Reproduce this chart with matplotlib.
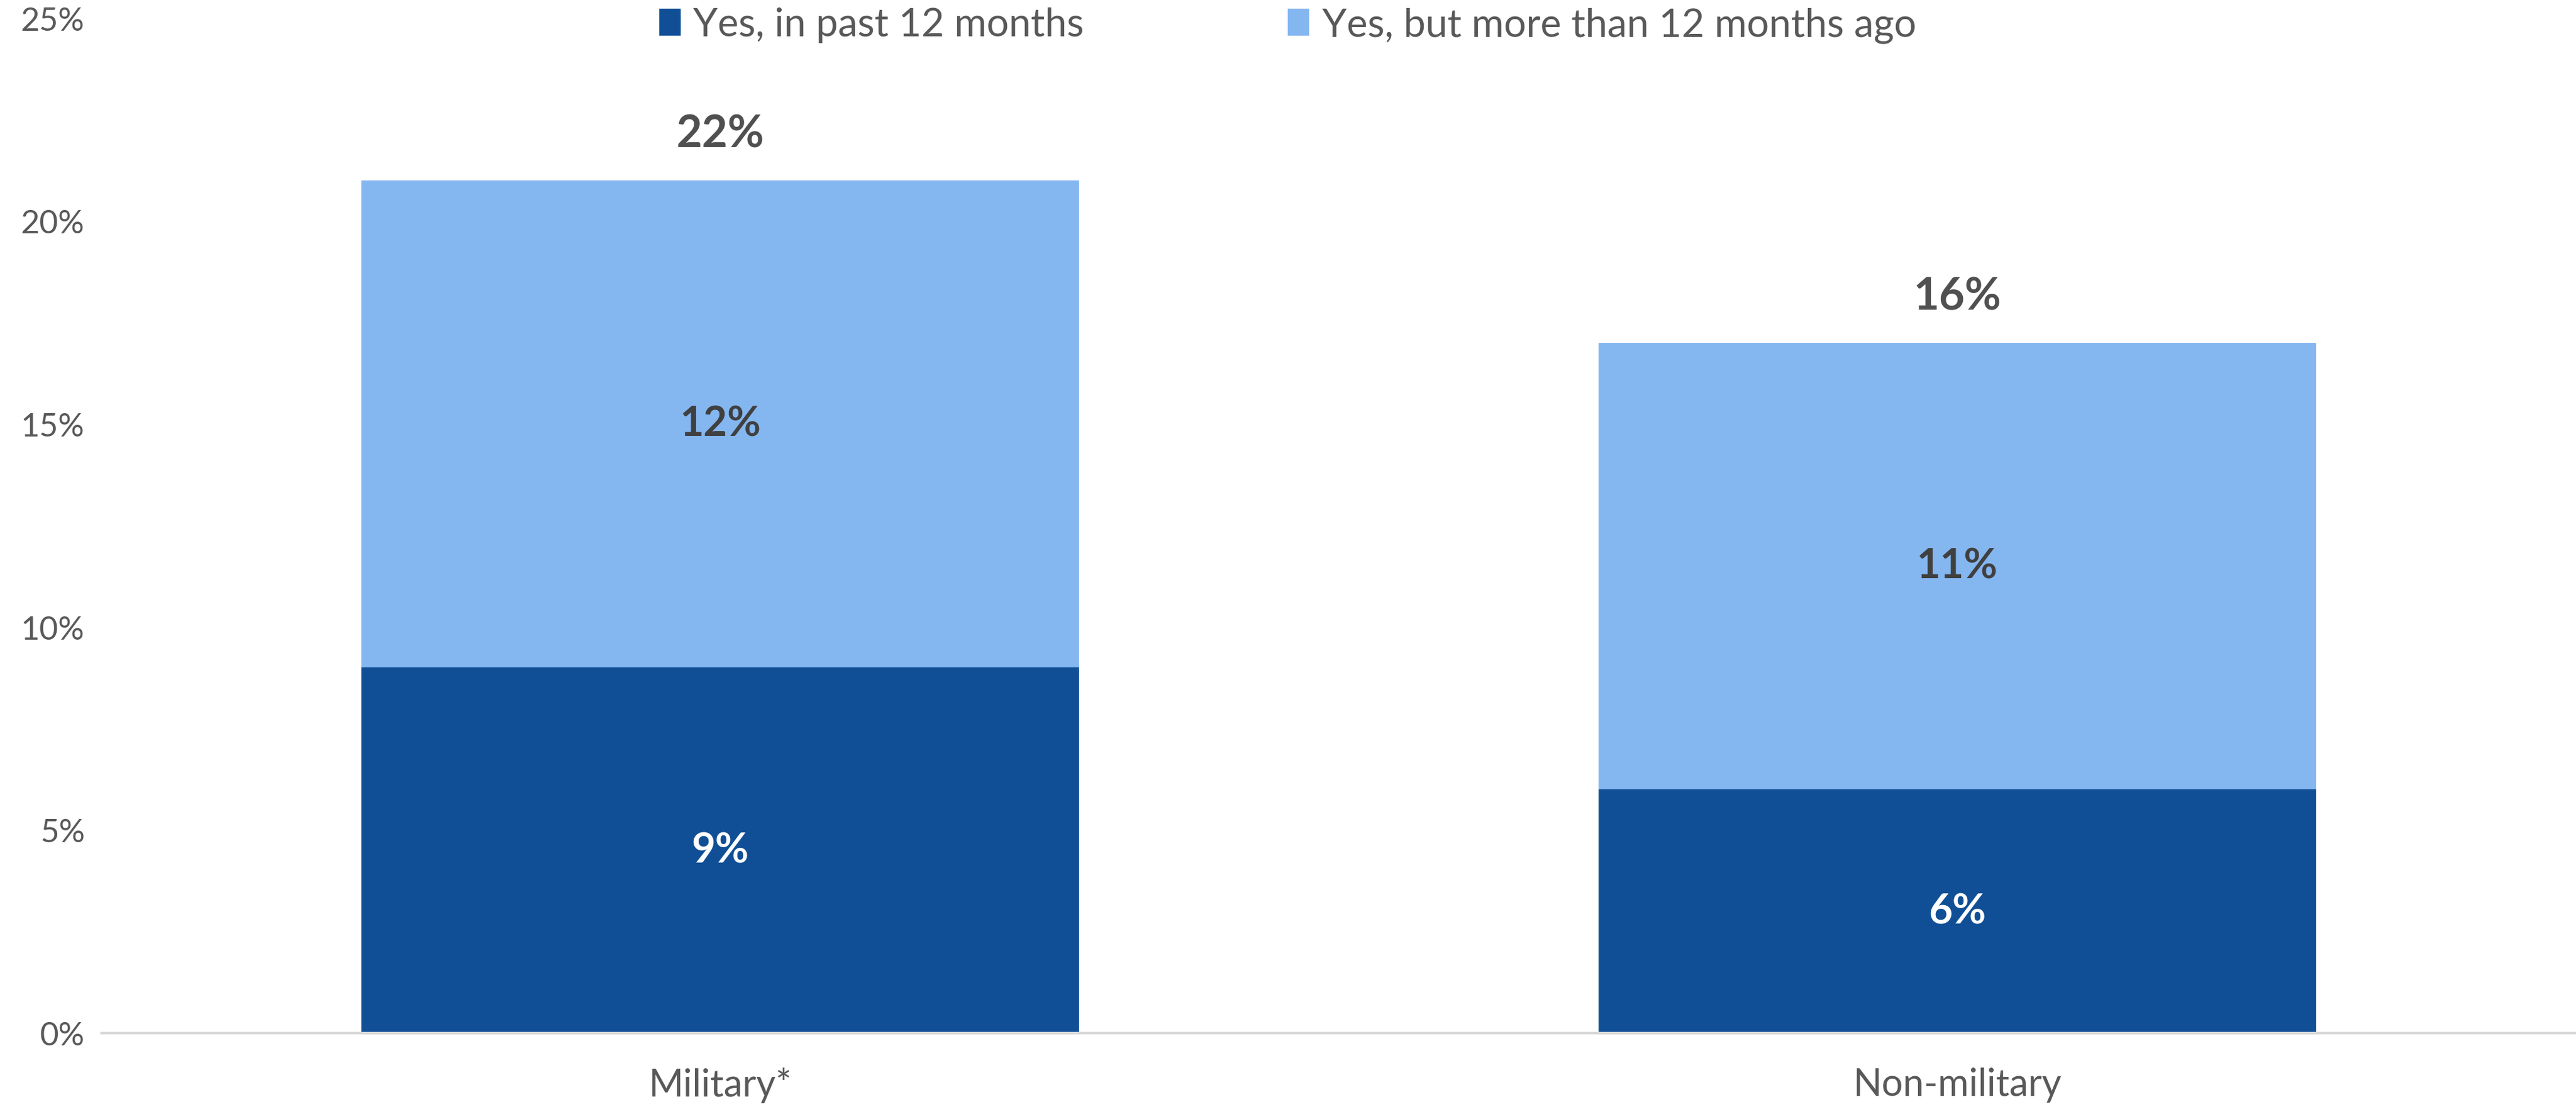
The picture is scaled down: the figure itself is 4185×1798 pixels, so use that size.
import numpy as np
import matplotlib
matplotlib.use('Agg')
import matplotlib.pyplot as plt
from matplotlib.patches import Patch

plt.rcParams['font.family'] = ['Lato', 'DejaVu Sans']

groups = ['Military*', 'Non-military']
past_12 = [9, 6]
more_12 = [12, 11]
totals = ['22%', '16%']
series_names = ['Yes, in past 12 months', 'Yes, but more than 12 months ago']

dark = '#104F96'
light = '#84B6F0'
grey = '#595959'

fig = plt.figure(figsize=(20.925, 8.995), dpi=200)
ax = fig.add_axes([0.0395, 0.0668, 0.9605, 0.9162])

x = np.arange(len(groups))
w = 0.58
ax.bar(x, past_12, w, color=dark)
ax.bar(x, more_12, w, bottom=past_12, color=light)

for i in range(len(groups)):
    ax.text(x[i], past_12[i] / 2, f'{past_12[i]}%', ha='center', va='center',
            color='white', fontsize=24, fontweight='bold')
    ax.text(x[i], past_12[i] + more_12[i] / 2, f'{more_12[i]}%', ha='center', va='center',
            color='#404040', fontsize=24, fontweight='bold')
    ax.annotate(totals[i], (x[i], past_12[i] + more_12[i]), xytext=(0, 27),
                textcoords='offset points', ha='center', va='center',
                color='#505050', fontsize=26, fontweight='bold')

ax.set_xlim(-0.5, 1.5)
ax.set_ylim(0, 25)
ax.set_yticks(range(0, 26, 5))
ax.set_yticklabels([f'{v}%' for v in range(0, 26, 5)])
ax.set_xticks(x)
ax.set_xticklabels(groups)
ax.tick_params(axis='both', length=0, colors=grey)
ax.tick_params(axis='y', labelsize=19, pad=10)
ax.tick_params(axis='x', labelsize=22, pad=20)

for s in ['top', 'right', 'left']:
    ax.spines[s].set_visible(False)
ax.spines['bottom'].set_color('#D9D9D9')
ax.spines['bottom'].set_linewidth(1.5)

handles = [Patch(color=dark), Patch(color=light)]
fig.legend(handles, series_names, loc='center', bbox_to_anchor=(0.5, 0.977),
           ncol=2, frameon=False, fontsize=23, labelcolor=grey,
           handlelength=0.5, handleheight=0.6, handletextpad=0.35, columnspacing=5.2)

fig.savefig('out.png', dpi=200, facecolor='white')
